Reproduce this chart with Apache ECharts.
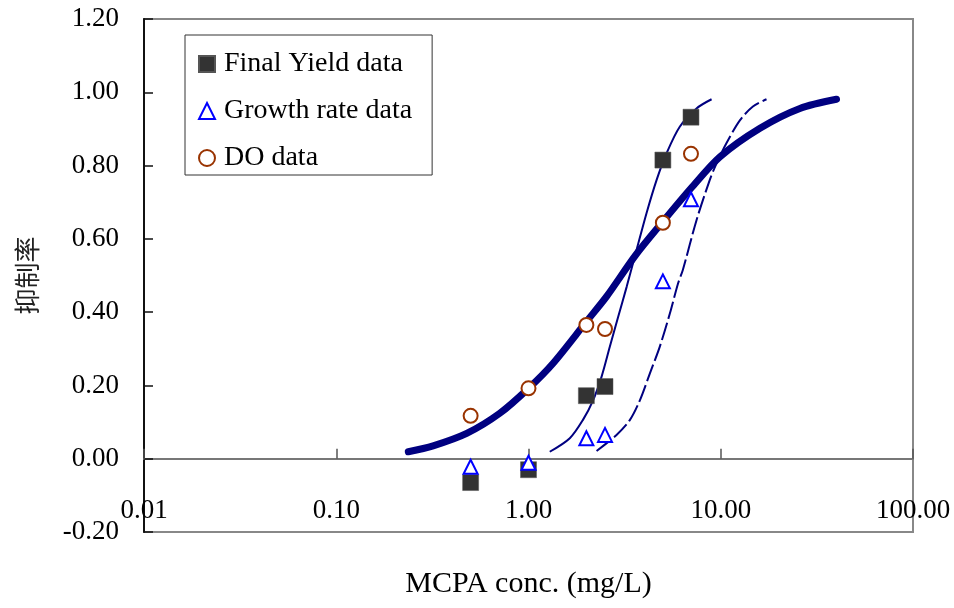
<!DOCTYPE html>
<html>
<head>
<meta charset="utf-8">
<script src="https://cdn.jsdelivr.net/npm/echarts@6/dist/echarts.min.js"></script>
<style>
html,body{margin:0;padding:0;background:#fff;}
#chart{width:954px;height:608px;}
</style>
</head>
<body>
<div id="chart"></div>
<script>
// ---- data ----
const conc = [0.5, 1.0, 2.0, 2.5, 5.0, 7.0];
const finalYield = [-0.065, -0.03, 0.172, 0.197, 0.815, 0.932];
const growthRate = [-0.022, -0.011, 0.056, 0.065, 0.484, 0.708];
const doData = [0.117, 0.192, 0.365, 0.354, 0.644, 0.832];

const doFitX = [0.237, 0.319, 0.477, 0.709, 1.0, 1.34, 2.0, 2.55, 3.6, 5.0, 7.0, 9.9, 16.0, 25.8, 40.0];
const doFitY = [0.019, 0.035, 0.069, 0.124, 0.192, 0.260, 0.374, 0.443, 0.555, 0.647, 0.738, 0.824, 0.902, 0.956, 0.981];

const fyFitX = [1.29, 1.64, 1.92, 2.17, 2.40, 2.65, 2.93, 3.24, 3.65, 4.11, 4.64, 5.23, 6.12, 7.48, 8.96];
const fyFitY = [0.019, 0.056, 0.106, 0.160, 0.224, 0.306, 0.388, 0.469, 0.570, 0.670, 0.761, 0.834, 0.906, 0.956, 0.981];

const grFitX = [2.26, 2.87, 3.37, 3.80, 4.28, 4.82, 5.44, 6.00, 6.35, 7.48, 8.77, 9.51, 10.7, 12.6, 14.7, 17.3];
const grFitY = [0.021, 0.065, 0.106, 0.160, 0.233, 0.306, 0.397, 0.479, 0.515, 0.651, 0.761, 0.806, 0.861, 0.924, 0.961, 0.981];

const xTickValues = [0.01, 0.1, 1, 10, 100];
const xTickLabels = ['0.01', '0.10', '1.00', '10.00', '100.00'];
const yTickLabels = ['-0.20', '0.00', '0.20', '0.40', '0.60', '0.80', '1.00', '1.20'];
const seriesNames = ['Final Yield data', 'Growth rate data', 'DO data'];
const xTitle = 'MCPA conc. (mg/L)';
const yTitle = '抑制率';

const pair = (xs, ys) => xs.map((x, i) => [x, ys[i]]);
const serif = '"Liberation Serif", "Times New Roman", serif';

const chart = echarts.init(document.getElementById('chart'), null, {renderer: 'canvas'});
chart.setOption({
  animation: false,
  backgroundColor: '#fff',
  grid: {left: 144, right: 41, top: 19, bottom: 76, containLabel: false, outerBoundsMode: 'none',
         show: true, borderColor: '#888', borderWidth: 2, backgroundColor: 'transparent'},
  legend: {
    data: seriesNames,
    orient: 'vertical',
    left: 185, top: 35,
    padding: [14, 20, 2, 13],
    itemWidth: 16, itemHeight: 16, itemGap: 17,
    borderColor: '#333', borderWidth: 1,
    backgroundColor: '#fff',
    selectedMode: false,
    textStyle: {fontFamily: serif, fontSize: 28, lineHeight: 30, color: '#000', padding: [0, 0, 0, 4]}
  },
  xAxis: {
    type: 'log', logBase: 10, min: 0.01, max: 100,
    axisLine: {onZero: true, lineStyle: {color: '#777', width: 2}},
    axisTick: {inside: true, length: 10, lineStyle: {color: '#555', width: 1.5}},
    splitLine: {show: false},
    minorTick: {show: false},
    axisLabel: {
      margin: -35, fontFamily: serif, fontSize: 27, color: '#000',
      formatter: function (v) {
        let best = 0, d = Infinity;
        xTickValues.forEach((t, i) => { const e = Math.abs(Math.log10(t) - Math.log10(v)); if (e < d) { d = e; best = i; } });
        return xTickLabels[best];
      }
    },
    name: xTitle, nameLocation: 'middle', nameGap: 37,
    nameTextStyle: {fontFamily: serif, fontSize: 30, color: '#000'}
  },
  yAxis: {
    type: 'value', min: -0.2, max: 1.2, interval: 0.2,
    axisLine: {lineStyle: {color: '#111', width: 2}},
    axisTick: {inside: true, length: 9, lineStyle: {color: '#111', width: 1.5}},
    splitLine: {show: false},
    axisLabel: {
      margin: 25, fontFamily: serif, fontSize: 27, color: '#000',
      formatter: function (v) { return yTickLabels[Math.round((v + 0.2) / 0.2)]; }
    },
    name: yTitle, nameLocation: 'middle', nameGap: 104,
    nameTextStyle: {fontFamily: '"Noto Sans CJK TC", "Noto Sans CJK SC", sans-serif', fontSize: 26, color: '#222'}
  },
  series: [
    {
      name: 'DO fit', type: 'line', data: pair(doFitX, doFitY), showSymbol: false, smooth: 0.3, z: 2,
      lineStyle: {color: '#000080', width: 7, cap: 'round'}, silent: true
    },
    {
      name: 'Final Yield fit', type: 'line', data: pair(fyFitX, fyFitY), showSymbol: false, smooth: 0.3, z: 2,
      lineStyle: {color: '#000080', width: 2}, silent: true
    },
    {
      name: 'Growth rate fit', type: 'line', data: pair(grFitX, grFitY), showSymbol: false, smooth: 0.3, z: 2,
      lineStyle: {color: '#000080', width: 2, type: [18, 4]}, silent: true
    },
    {
      name: seriesNames[0], type: 'scatter', data: pair(conc, finalYield), symbol: 'rect', symbolSize: 16, z: 5,
      itemStyle: {color: '#333333', borderColor: '#555', borderWidth: 0.5, opacity: 1}
    },
    {
      name: seriesNames[1], type: 'scatter', data: pair(conc, growthRate), symbol: 'triangle', symbolSize: 14, z: 5,
      itemStyle: {color: '#ffffff', borderColor: '#0000ff', borderWidth: 2, opacity: 1}
    },
    {
      name: seriesNames[2], type: 'scatter', data: pair(conc, doData), symbol: 'circle', symbolSize: 14, z: 5,
      itemStyle: {color: '#ffffff', borderColor: '#993300', borderWidth: 2, opacity: 1}
    }
  ]
});
</script>
</body>
</html>
